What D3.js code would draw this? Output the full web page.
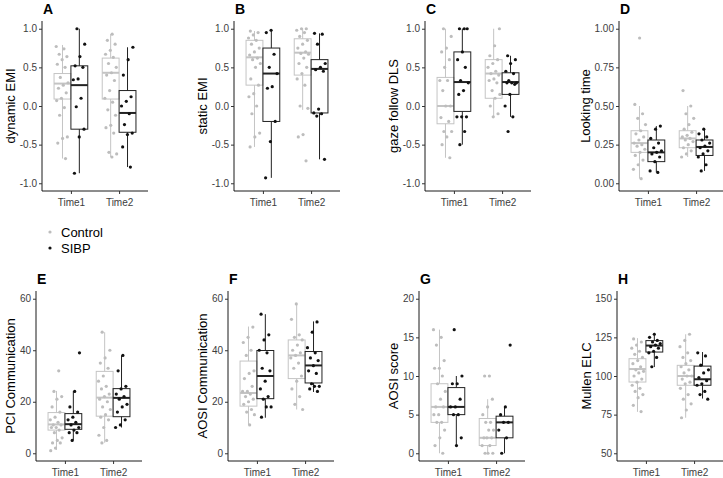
<!DOCTYPE html>
<html><head><meta charset="utf-8">
<script src="https://cdn.jsdelivr.net/npm/d3@7"></script>
<style>
body{margin:0;background:#fff;}
svg{display:block;font-family:"Liberation Sans",Arial,sans-serif;}
</style></head>
<body><svg id="c" width="723" height="478"></svg>
<script>
// ---- data ----
const times = ["Time1", "Time2"];
const groups = ["Control", "SIBP"];
const letters = ["A","B","C","D","E","F","G","H"];
const yTitles = ["dynamic EMI","static EMI","gaze follow DLS","Looking time","PCI Communication","AOSI Communication","AOSI score","Mullen ELC"];
const yLimits = [[-1,1],[-1,1],[-1,1],[0,1],[0,60],[0,60],[0,20],[50,150]];
const tickEMI = [-1,-0.5,0,0.5,1];
const tickLook = [0,0.25,0.5,0.75,1];
const tick60 = [0,20,40,60];
const tick20 = [0,5,10,15,20];
const tickMullen = [50,75,100,125,150];

// boxes: [lowWhisker, q1, median, q3, highWhisker] for Control-T1, SIBP-T1, Control-T2, SIBP-T2
const boxA = [[-0.68,0.09,0.29,0.42,0.79],[-0.87,-0.30,0.27,0.52,1.0],[-0.66,0.09,0.43,0.62,0.93],[-0.79,-0.34,-0.09,0.20,0.76]];
const boxB = [[-0.53,0.27,0.63,0.85,0.97],[-0.93,-0.20,0.42,0.75,0.98],[-0.05,0.40,0.69,0.87,1.0],[-0.69,-0.09,0.48,0.60,0.94]];
const boxC = [[-0.67,-0.23,0.0,0.37,1.0],[-0.5,-0.07,0.31,0.70,1.0],[-0.14,0.10,0.42,0.60,1.0],[-0.14,0.15,0.31,0.43,0.65]];
const boxD = [[0.03,0.20,0.26,0.34,0.50],[0.07,0.14,0.20,0.28,0.37],[0.17,0.23,0.29,0.34,0.50],[0.08,0.18,0.235,0.28,0.35]];
const boxE = [[1.3,9.0,11.2,15.8,24.2],[5.1,9.3,11.3,15.4,24.2],[4.1,14.4,21.6,31.8,47],[10,14.2,21.5,25.1,38]];
const boxF = [[11,18.3,23.4,35.8,49.2],[13.8,21.2,30,39.9,54],[17,29,38,44,58],[23.8,27.3,34.1,39.5,51.2]];
const boxG = [[0,4,6,9,16],[1,5,6,8.5,10],[0,1,2,4.5,7],[0,2,4,4.8,6]];
const boxH = [[76.8,96.1,104.5,111.2,124.5],[105.8,115.5,119.7,122.9,127.9],[73,94,100,106.9,127],[85.4,94,97.9,106.4,115.5]];

// points per group (Control-T1, SIBP-T1, Control-T2, SIBP-T2)
const ptsA = [
 [0.77,0.74,0.67,0.64,0.6,0.54,0.5,0.37,0.3,0.27,0.23,0.17,0.1,0.07,-0.02,-0.12,-0.4,-0.42,-0.48,-0.68],
 [1.0,0.8,0.64,0.52,0.5,0.35,0.34,0.1,-0.01,-0.3,-0.4,-0.87],
 [0.93,0.85,0.8,0.72,0.67,0.63,0.55,0.5,0.43,0.4,0.33,0.2,0.1,0.05,-0.05,-0.12,-0.25,-0.28,-0.35,-0.6,-0.62,-0.66],
 [0.76,0.6,0.4,0.12,0.06,0.0,-0.1,-0.24,-0.35,-0.37,-0.53,-0.79]];
const ptsB = [
 [0.97,0.95,0.92,0.88,0.85,0.8,0.75,0.7,0.66,0.62,0.6,0.55,0.5,0.35,0.27,0.16,0.12,0.0,-0.1,-0.35,-0.4,-0.53],
 [0.98,0.95,0.67,0.5,0.42,0.25,0.23,-0.2,-0.46,-0.93],
 [1.0,1.0,0.98,0.95,0.9,0.85,0.8,0.75,0.7,0.68,0.67,0.62,0.55,0.5,0.42,0.35,0.27,0.0,-0.03,-0.37,-0.4,-0.71],
 [0.94,0.93,0.8,0.55,0.5,0.47,0.45,-0.04,-0.09,-0.1,-0.13,-0.69]];
const ptsC = [
 [1.0,0.9,0.75,0.7,0.6,0.5,0.33,0.33,0.2,0.0,0.0,-0.15,-0.2,-0.33,-0.33,-0.4,-0.5,-0.67],
 [1.0,1.0,1.0,0.7,0.6,0.5,0.33,0.3,0.2,0.15,-0.14,-0.14,-0.14,-0.33,-0.5],
 [1.0,0.78,0.65,0.6,0.55,0.5,0.45,0.42,0.4,0.35,0.33,0.3,0.2,0.15,0.1,0.0,-0.1,-0.14],
 [0.65,0.6,0.55,0.45,0.42,0.33,0.3,0.3,0.3,0.28,0.15,0.0,-0.14,-0.33]];
const ptsD = [
 [0.94,0.51,0.45,0.42,0.38,0.34,0.32,0.3,0.28,0.26,0.25,0.24,0.22,0.2,0.18,0.15,0.12,0.09,0.03],
 [0.37,0.35,0.29,0.26,0.23,0.21,0.2,0.19,0.17,0.14,0.08,0.07],
 [0.6,0.5,0.45,0.42,0.38,0.35,0.33,0.31,0.3,0.29,0.28,0.27,0.25,0.23,0.21,0.19,0.17],
 [0.35,0.32,0.3,0.28,0.26,0.24,0.23,0.21,0.19,0.17,0.12,0.08]];
const ptsE = [
 [32,24,22,21,18,16,14,13,12,11,11,10,10,9,8,6,5,4,4,2,1],
 [39,24,18,16,14,13,12,11,10,9,8,8,5],
 [47,40,37,35,33,30,28,26,25,23,22,21,20,18,17,15,14,13,10,7,5,4],
 [38,32,26,25,23,22,21,19,18,16,13,11,10]];
const ptsF = [
 [49,45,43,40,38,32,31,29,26,24,24,23,22,21,20,19,17,16,15,11],
 [54,46,44,40,39,33,32,28,25,22,21,18,18,14],
 [58,52,46,45,44,42,40,39,38,37,35,33,30,28,25,22,19,17],
 [51,47,41,39,37,36,34,32,31,27,26,26,25,24]];
const ptsG = [
 [16,15,14,12,11,11,10,9,8,7,6,6,5,5,4,4,3,2,1,0],
 [16,10,9,9,7,6,6,5,5,2,1],
 [10,10,7,6,5,4,4,3,3,2,2,2,1,1,0,0,0],
 [14,6,5,4,4,3,2,0]];
const ptsH = [
 [124,122,120,118,116,114,112,110,108,106,104,103,102,100,98,96,94,92,90,88,86,81,77],
 [127,125,123,122,121,120,119,118,116,115,112,106],
 [127,123,119,115,112,110,108,106,104,102,100,100,98,96,95,92,88,85,82,78,73],
 [115,113,107,104,102,99,97,95,94,90,88,85]];

const allBoxes = [boxA,boxB,boxC,boxD,boxE,boxF,boxG,boxH];
const allPts = [ptsA,ptsB,ptsC,ptsD,ptsE,ptsF,ptsG,ptsH];
const allTicks = [tickEMI,tickEMI,tickEMI,tickLook,tick60,tick60,tick20,tickMullen];

// ---- layout ----
const lefts = [42,234,425,619,36,228,419,617];
const rowTop = [21,291];
const plotH = 170, plotW = 106;
const colors = {Control:"#bdbdbd", SIBP:"#111111"};
const boxColors = {Control:"#c4c4c4", SIBP:"#222222"};

const svg = d3.select("#c");

letters.forEach((L,i)=>{
  const row = i<4?0:1;
  const top = rowTop[row], left = lefts[i];
  const g = svg.append("g");
  const lim = yLimits[i], span = lim[1]-lim[0];
  const y = d3.scaleLinear().domain([lim[0]-0.05*span, lim[1]+0.05*span]).range([top+plotH, top]);
  const x = d3.scaleLinear().domain([0.4,2.6]).range([left,left+plotW]);
  const fmt = i===3 ? d3.format(".2f") : (i<3 ? d3.format(".1f") : d3.format("d"));

  // y axis
  const ya = g.append("g").attr("transform",`translate(${left},0)`)
    .call(d3.axisLeft(y).tickValues(allTicks[i]).tickFormat(v=>fmt(v).replace("−","-")).tickSize(3).tickPadding(2));
  ya.select(".domain").attr("d",`M0,${top}V${top+plotH}`).attr("stroke","#000").attr("stroke-width",0.9);
  ya.selectAll(".tick line").attr("stroke","#333");
  ya.selectAll(".tick text").attr("font-size",10).attr("fill","#3d3d3d").attr("font-family","Liberation Sans, Arial, sans-serif");

  // x axis
  const xa = g.append("g").attr("transform",`translate(0,${top+plotH})`)
    .call(d3.axisBottom(x).tickValues([1,2]).tickFormat((d)=>times[d-1]).tickSize(3).tickPadding(5));
  xa.select(".domain").attr("d",`M${left},0H${left+plotW}`).attr("stroke","#000").attr("stroke-width",0.9);
  xa.selectAll(".tick line").attr("stroke","#333");
  xa.selectAll(".tick text").attr("font-size",10).attr("fill","#3d3d3d").attr("font-family","Liberation Sans, Arial, sans-serif");

  // boxes & points
  const bw = 0.7/2; // each box width in units
  allBoxes[i].forEach((b,k)=>{
    const t = Math.floor(k/2)+1, grp = groups[k%2];
    const cx = t + (k%2===0 ? -bw/2 : bw/2);
    const x0 = x(cx-bw/2), x1 = x(cx+bw/2), xc = x(cx);
    const col = boxColors[grp];
    g.append("line").attr("x1",xc).attr("x2",xc).attr("y1",y(b[4])).attr("y2",y(b[3])).attr("stroke",col).attr("stroke-width",1);
    g.append("line").attr("x1",xc).attr("x2",xc).attr("y1",y(b[1])).attr("y2",y(b[0])).attr("stroke",col).attr("stroke-width",1);
    g.append("rect").attr("x",x0).attr("y",y(b[3])).attr("width",x1-x0).attr("height",y(b[1])-y(b[3]))
      .attr("fill","none").attr("stroke",col).attr("stroke-width",1);
    g.append("line").attr("x1",x0).attr("x2",x1).attr("y1",y(b[2])).attr("y2",y(b[2])).attr("stroke",col).attr("stroke-width",2);
    // jittered points (deterministic spread)
    allPts[i][k].forEach((v,j)=>{
      const off = (((j*0.618034 + k*0.31 + i*0.17) % 1) - 0.5) * 0.26;
      g.append("circle").attr("cx",x(cx+off)).attr("cy",y(v)).attr("r",1.6).attr("fill",colors[grp]);
    });
  });

  // y title
  const minX = d3.min(ya.selectAll(".tick text").nodes(), n=>{const bb=n.getBBox(); return left - 5 - bb.width;});
  g.append("text").attr("transform",`translate(${minX-4},${top+plotH/2}) rotate(-90)`)
    .attr("text-anchor","middle").attr("font-size",13).attr("fill","#000").text(yTitles[i]);
  // panel letter
  g.append("text").attr("x",left+1).attr("y",top-7).attr("font-size",14).attr("font-weight","bold").attr("fill","#000").text(L);
});

// legend
const leg = svg.append("g");
groups.forEach((grp,k)=>{
  const yy = 232 + k*16;
  leg.append("circle").attr("cx",50).attr("cy",yy).attr("r",1.6).attr("fill",colors[grp]);
  leg.append("text").attr("x",61).attr("y",yy+4.5).attr("font-size",13).attr("fill","#000").text(grp);
});
</script></body></html>
